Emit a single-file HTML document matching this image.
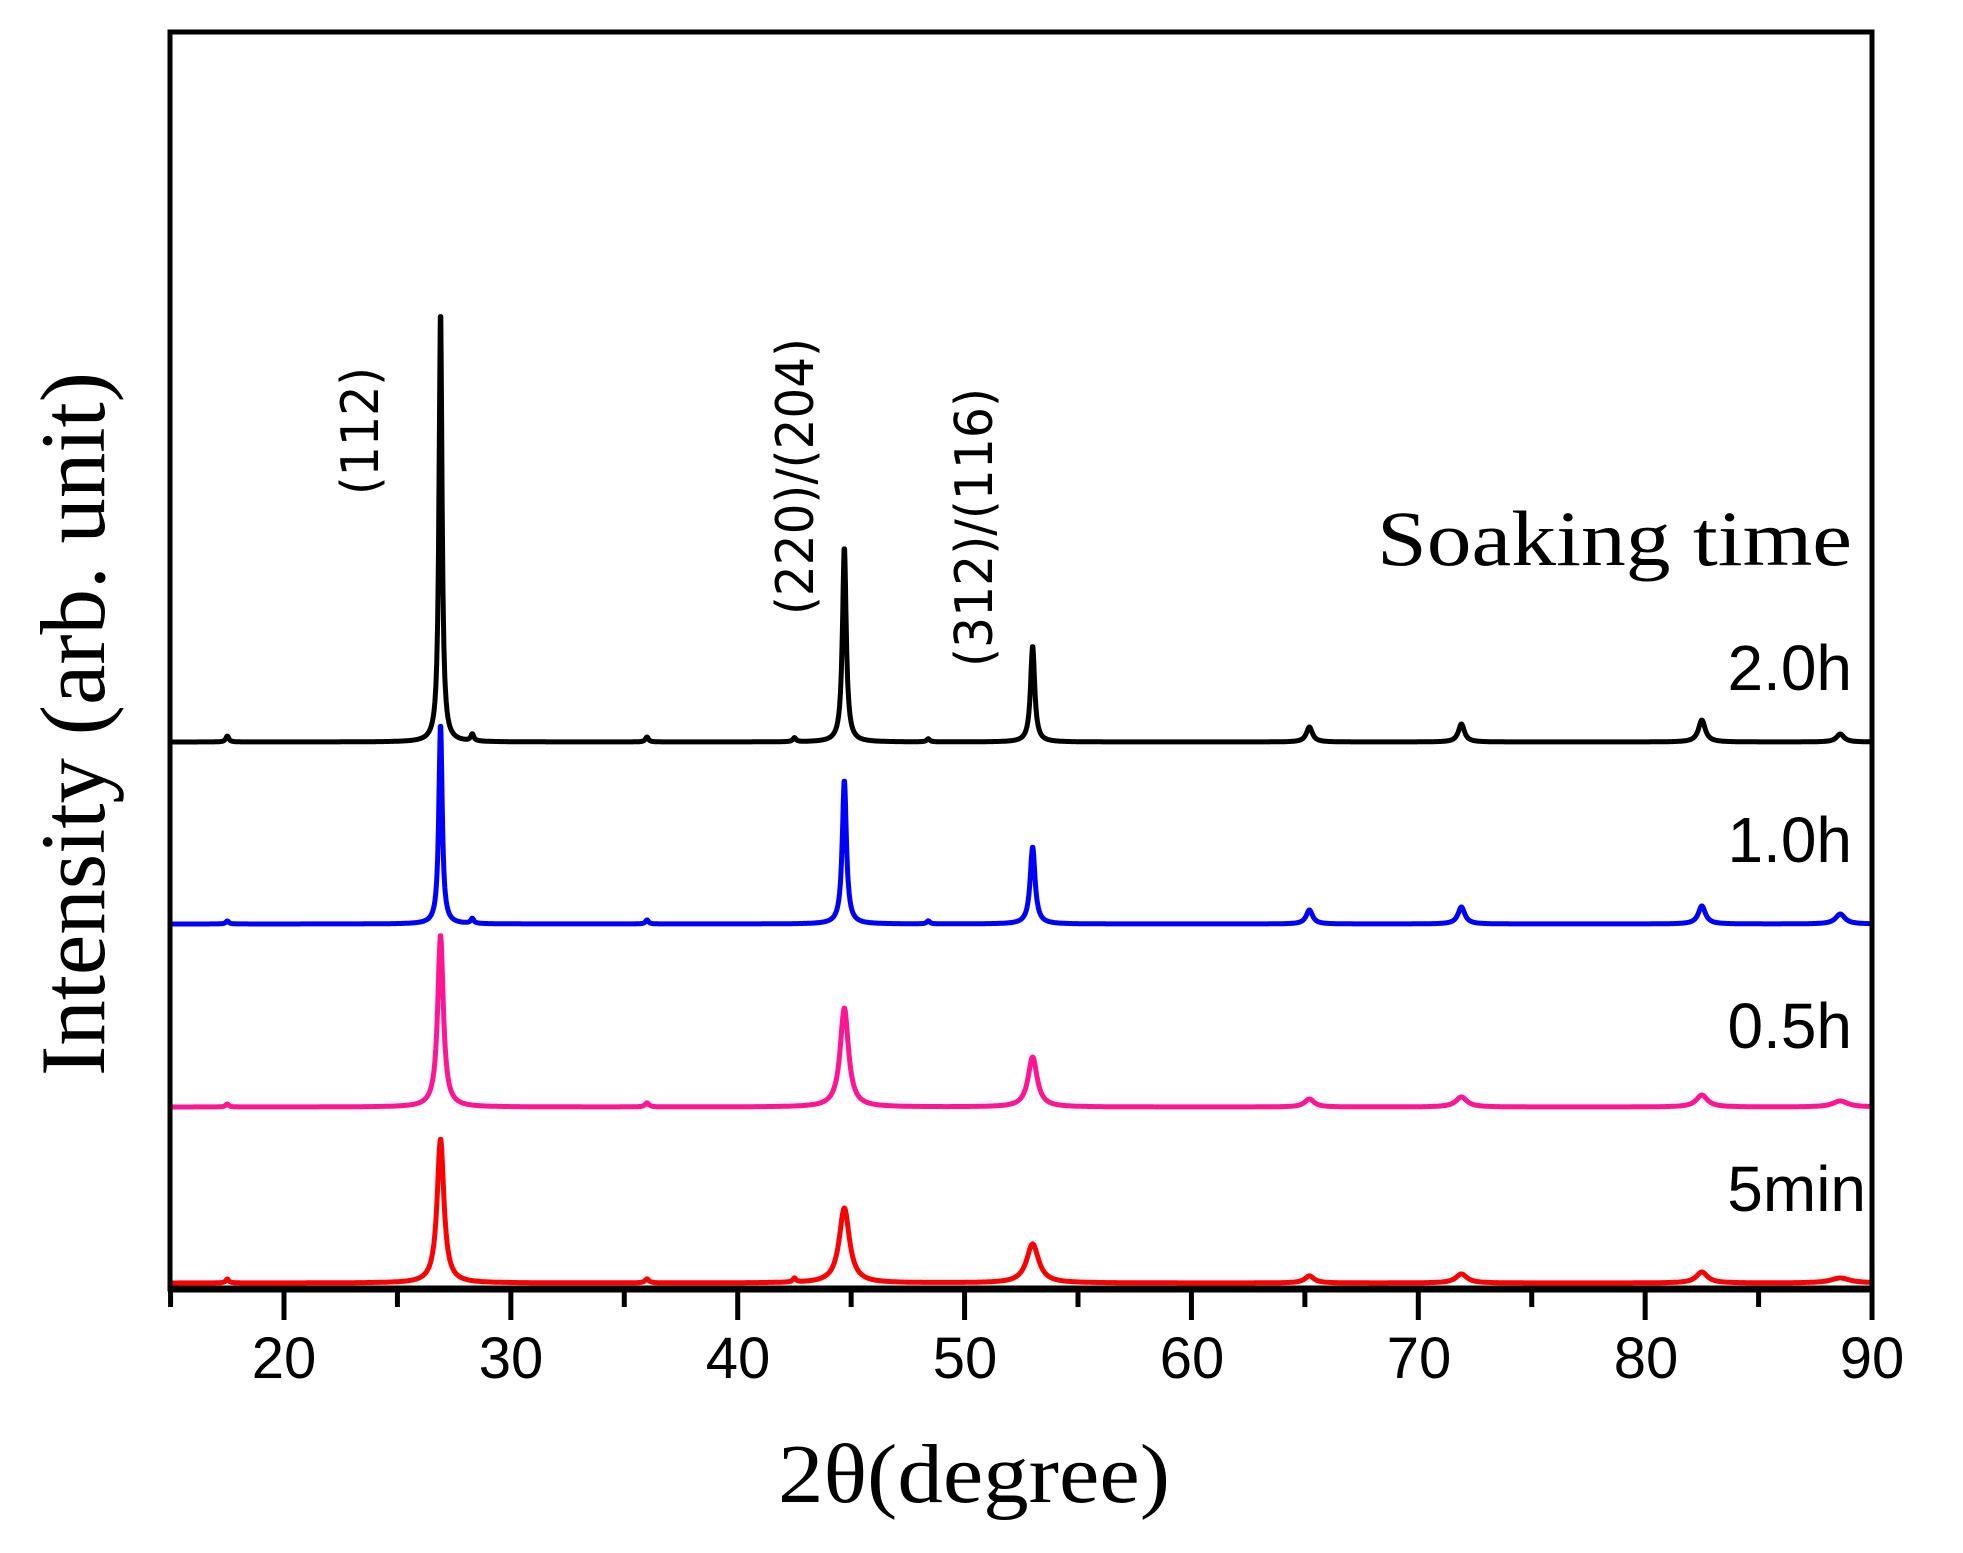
<!DOCTYPE html>
<html><head><meta charset="utf-8"><style>
html,body{margin:0;padding:0;background:#fff;}
svg{display:block;}
</style></head><body>
<svg id="s" width="1963" height="1553" viewBox="0 0 1963 1553" xmlns="http://www.w3.org/2000/svg">
<rect width="1963" height="1553" fill="#fff"/>
<g id="curves" fill="none" stroke-width="5" stroke-linejoin="round"></g>
<rect x="170" y="32" width="1702" height="1257" fill="none" stroke="#000" stroke-width="5"/>
<line x1="168" y1="1289" x2="1874" y2="1289" stroke="#000" stroke-width="7"/>
<g id="ticks" stroke="#000" stroke-width="5"></g>
<g font-family="Liberation Sans, sans-serif" font-size="58" text-anchor="middle" fill="#000">
<text x="284" y="1378">20</text><text x="511" y="1378">30</text><text x="738" y="1378">40</text>
<text x="965" y="1378">50</text><text x="1192" y="1378">60</text><text x="1419" y="1378">70</text>
<text x="1646" y="1378">80</text><text x="1872" y="1378">90</text>
</g>
<text x="778" y="1502" font-family="Liberation Serif, serif" font-size="84" textLength="392" lengthAdjust="spacingAndGlyphs">2θ(degree)</text>
<text transform="translate(104,1076) rotate(-90)" font-family="Liberation Serif, serif" font-size="92" textLength="704" lengthAdjust="spacingAndGlyphs">Intensity (arb. unit)</text>
<text x="1377" y="565" font-family="Liberation Serif, serif" font-size="78" textLength="475" lengthAdjust="spacingAndGlyphs">Soaking time</text>
<g font-family="Liberation Sans, sans-serif" font-size="64" text-anchor="end">
<text x="1852" y="690">2.0h</text>
<text x="1852" y="862">1.0h</text>
<text x="1852" y="1048">0.5h</text>
<text x="1866" y="1211">5min</text>
</g>
<g font-family="DejaVu Sans, sans-serif" font-size="52">
<text transform="translate(378,495) rotate(-90)" textLength="128" lengthAdjust="spacingAndGlyphs">(112)</text>
<text transform="translate(813,615) rotate(-90)" textLength="277" lengthAdjust="spacingAndGlyphs">(220)/(204)</text>
<text transform="translate(992,667) rotate(-90)" textLength="279" lengthAdjust="spacingAndGlyphs">(312)/(116)</text>
</g>
</svg>
<script>
(function(){
var NS="http://www.w3.org/2000/svg";
function X(t){return 284+(t-20)*22.686;}
var tk=document.getElementById('ticks');
for(var t=15;t<=90;t+=5){var l=document.createElementNS(NS,'line');var x=X(t);
l.setAttribute('x1',x);l.setAttribute('x2',x);l.setAttribute('y1',1289);l.setAttribute('y2',(t%10==0)?1320:1307);tk.appendChild(l);}
var S=[
 {c:'#000',b:742,p:[[17.5,6,.08],[26.9,432,.08],[28.3,7,.08],[36,5,.08],[42.5,4,.08],[44.7,195,.1],[48.4,3,.08],[53.0,96,.11],[65.2,15,.16],[71.9,18,.16],[82.5,22,.18],[88.6,8,.2]]},
 {c:'#0000ff',b:924,p:[[17.5,3,.08],[26.9,200,.09],[28.3,5,.08],[36,4,.08],[44.7,144,.11],[48.4,3,.08],[53.0,77,.13],[65.2,14,.17],[71.9,17,.18],[82.5,18,.19],[88.6,10,.25]]},
 {c:'#ff1493',b:1107,p:[[17.5,3,.08],[26.9,172,.15],[36,4,.1],[44.7,99,.22],[53.0,50,.24],[65.2,8,.25],[71.9,10,.3],[82.5,12,.3],[88.6,6,.4]]},
 {c:'#ff0000',b:1283,p:[[17.5,4,.08],[26.9,144,.18],[36,4,.1],[42.5,4,.08],[44.7,75,.27],[53.0,39,.32],[65.2,7,.25],[71.9,9,.3],[82.5,11,.3],[88.6,5,.5]]}
];
var g=document.getElementById('curves');
S.forEach(function(s){var d='';for(var t=15.05;t<=89.95;t+=0.02){var y=0;
 s.p.forEach(function(p){var u=(t-p[0])/p[2];y+=p[1]/(1+u*u);});
 d+=(d?'L':'M')+X(t).toFixed(1)+' '+(s.b-y).toFixed(1);}
 var pa=document.createElementNS(NS,'path');pa.setAttribute('d',d);pa.setAttribute('stroke',s.c);g.appendChild(pa);});
})();
</script>
</body></html>
